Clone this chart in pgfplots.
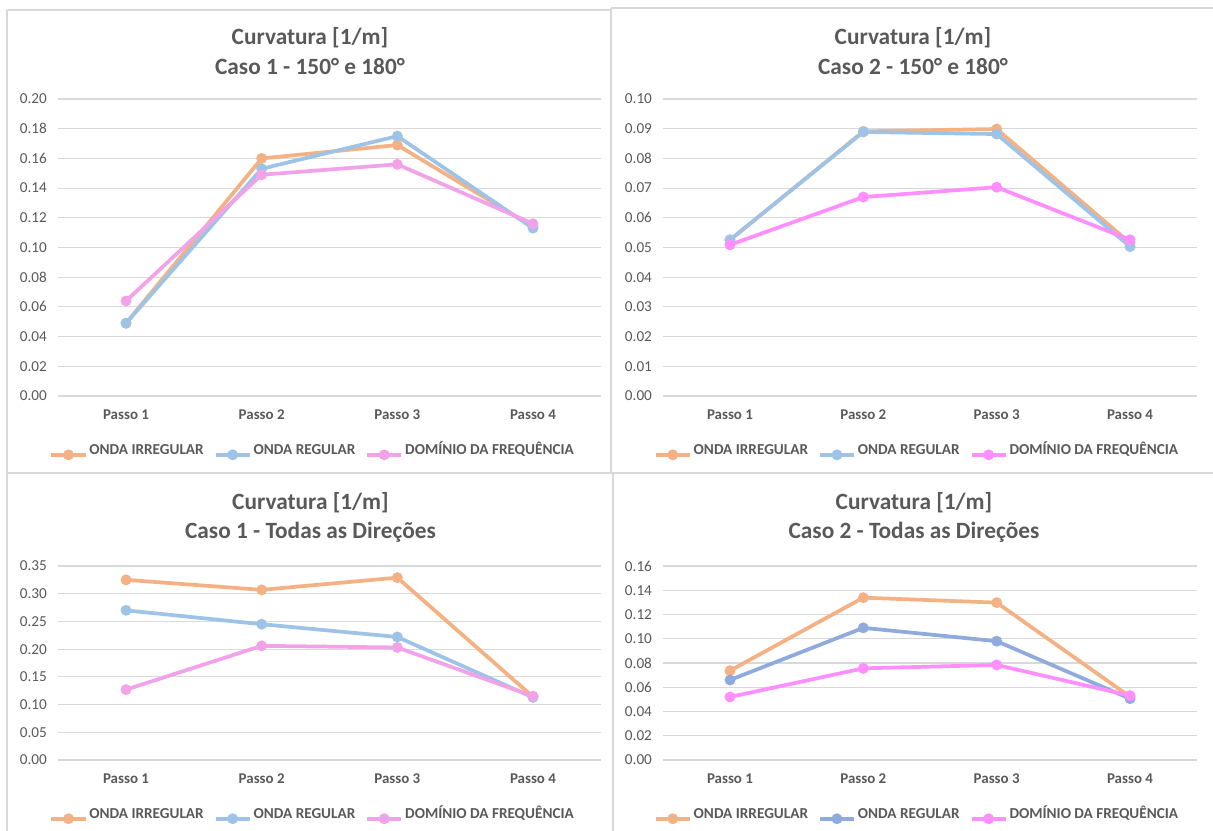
\documentclass[border=0pt]{standalone}
\usepackage{pgfplots}
\pgfplotsset{compat=1.18}
\usepackage{fontspec}
\setmainfont{Carlito}
\definecolor{txt}{HTML}{595959}
\definecolor{gridc}{HTML}{D9D9D9}
\definecolor{frame}{HTML}{D9D9D9}
\definecolor{orng}{HTML}{F4B183}
\definecolor{blu}{HTML}{9DC3E6}
\definecolor{blud}{HTML}{8FAADC}
\definecolor{pnk}{HTML}{F2A2E8}
\definecolor{pnkb}{HTML}{FF8FFF}
\pgfplotsset{
  panel/.style={
    scale only axis,
    xmin=0.5, xmax=4.5,
    xtick={1,2,3,4},
    xticklabels={Passo 1,Passo 2,Passo 3,Passo 4},
    axis line style={draw=none},
    tick style={draw=none},
    major tick length=0pt,
    ymajorgrids,
    grid style={draw=gridc, line width=0.8pt},
    ymin=0,
    scaled y ticks=false,
    /pgf/number format/assume math mode=true,
    yticklabel style={/pgf/number format/.cd, fixed, fixed zerofill, precision=2, /tikz/.cd, font=\fontsize{11.4}{13}\selectfont, text=txt, xshift=-5pt},
    xticklabel style={font=\bfseries\fontsize{11.2}{13}\selectfont, text=txt, yshift=-7pt},
    title style={anchor=center, align=center, font=\bfseries\fontsize{17.5}{22}\selectfont, text=txt},
    legend columns=3,
    legend cell align=left,
    legend style={draw=none, fill=none, anchor=center, font=\bfseries\fontsize{11.4}{13}\selectfont, text=txt,
      /tikz/every even column/.append style={column sep=6pt}, inner sep=0pt,
      nodes={inner sep=1.5pt, anchor=base west}},
    legend image code/.code={\draw[mark repeat=2,mark phase=2] plot coordinates {(0cm,0cm) (0.45cm,0cm) (0.9cm,0cm)};},
    every axis plot/.append style={line width=2.8pt, mark=*, mark size=2.6pt},
  }
}
\begin{document}
\begin{tikzpicture}
\useasboundingbox (0,0) rectangle (1213*0.75pt,-831*0.75pt);
% panel frames
\begin{scope}[draw=frame, line width=1.2pt]
\draw (7*0.75pt,-10*0.75pt) -- (7*0.75pt,-831*0.75pt);
\draw (7*0.75pt,-10*0.75pt) -- (611*0.75pt,-10*0.75pt);
\draw (611*0.75pt,-8*0.75pt) -- (1213*0.75pt,-8*0.75pt);
\draw (611*0.75pt,-8*0.75pt) -- (611*0.75pt,-473*0.75pt);
\draw (613*0.75pt,-473*0.75pt) -- (613*0.75pt,-831*0.75pt);
\draw (7*0.75pt,-473*0.75pt) -- (1213*0.75pt,-473*0.75pt);
\end{scope}

% Panel 1
\begin{axis}[panel,
  at={(58.2*0.75pt,-396*0.75pt)}, anchor=south west,
  width=542.6*0.75pt, height=297*0.75pt,
  ymax=0.20, ytick={0,0.02,...,0.201},
  title={Curvatura [1/m]\\Caso 1 - 150° e 180°},
  title style={at={(0.464,1.135)}},
  legend style={at={(0.469,-0.18)}},
]
\addplot[color=orng] coordinates {(1,0.049) (2,0.160) (3,0.169) (4,0.114)};
\addlegendentry{ONDA IRREGULAR}
\addplot[color=blu] coordinates {(1,0.049) (2,0.153) (3,0.175) (4,0.113)};
\addlegendentry{ONDA REGULAR}
\addplot[color=pnk] coordinates {(1,0.064) (2,0.149) (3,0.156) (4,0.116)};
\addlegendentry{DOMÍNIO DA FREQUÊNCIA}
\end{axis}

% Panel 2
\begin{axis}[panel,
  at={(663.3*0.75pt,-396*0.75pt)}, anchor=south west,
  width=533.4*0.75pt, height=297*0.75pt,
  ymax=0.10, ytick={0,0.01,...,0.1001},
  title={Curvatura [1/m]\\Caso 2 - 150° e 180°},
  title style={at={(0.468,1.135)}},
  legend style={at={(0.4756,-0.18)}},
]
\addplot[color=orng] coordinates {(1,0.0525) (2,0.0891) (3,0.0899) (4,0.0515)};
\addlegendentry{ONDA IRREGULAR}
\addplot[color=blu] coordinates {(1,0.0526) (2,0.0889) (3,0.0882) (4,0.0503)};
\addlegendentry{ONDA REGULAR}
\addplot[color=pnkb] coordinates {(1,0.0509) (2,0.0670) (3,0.0703) (4,0.0526)};
\addlegendentry{DOMÍNIO DA FREQUÊNCIA}
\end{axis}

% Panel 3
\begin{axis}[panel,
  at={(58.2*0.75pt,-760*0.75pt)}, anchor=south west,
  width=542.6*0.75pt, height=194*0.75pt,
  ymax=0.35, ytick={0,0.05,...,0.351},
  title={Curvatura [1/m]\\Caso 1 - Todas as Direções},
  title style={at={(0.465,1.21)}},
  legend style={at={(0.469,-0.275)}},
]
\addplot[color=orng] coordinates {(1,0.325) (2,0.307) (3,0.329) (4,0.114)};
\addlegendentry{ONDA IRREGULAR}
\addplot[color=blu] coordinates {(1,0.270) (2,0.245) (3,0.222) (4,0.113)};
\addlegendentry{ONDA REGULAR}
\addplot[color=pnk] coordinates {(1,0.127) (2,0.206) (3,0.203) (4,0.115)};
\addlegendentry{DOMÍNIO DA FREQUÊNCIA}
\end{axis}

% Panel 4
\begin{axis}[panel,
  at={(663.3*0.75pt,-760*0.75pt)}, anchor=south west,
  width=533.4*0.75pt, height=194*0.75pt,
  ymax=0.16, ytick={0,0.02,...,0.1601},
  title={Curvatura [1/m]\\Caso 2 - Todas as Direções},
  title style={at={(0.47,1.21)}},
  legend style={at={(0.4756,-0.275)}},
]
\addplot[color=orng] coordinates {(1,0.0737) (2,0.1339) (3,0.1298) (4,0.0522)};
\addlegendentry{ONDA IRREGULAR}
\addplot[color=blud] coordinates {(1,0.066) (2,0.109) (3,0.098) (4,0.0506)};
\addlegendentry{ONDA REGULAR}
\addplot[color=pnkb] coordinates {(1,0.052) (2,0.0756) (3,0.0784) (4,0.0531)};
\addlegendentry{DOMÍNIO DA FREQUÊNCIA}
\end{axis}
\end{tikzpicture}
\end{document}
